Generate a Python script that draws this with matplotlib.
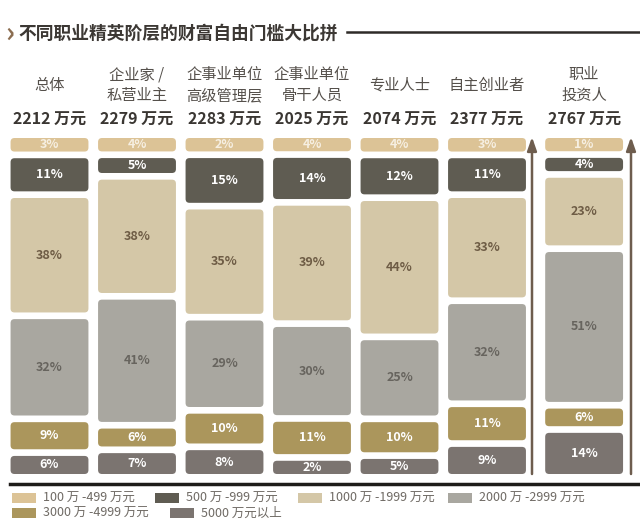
# 不同职业精英阶层的财富自由门槛 - 分段堆叠柱
import numpy as np
import matplotlib
matplotlib.use("Agg")
import matplotlib.pyplot as plt
from matplotlib.patches import FancyBboxPatch, Rectangle

plt.rcParams['font.family'] = ['Noto Sans CJK SC', 'DejaVu Sans']

# 数据
groups = ["总体", "企业家 /\n私营业主", "企事业单位\n高级管理层", "企事业单位\n骨干人员",
          "专业人士", "自主创业者", "职业\n投资人"]
totals = [2212, 2279, 2283, 2025, 2074, 2377, 2767]
s100 = [3, 4, 2, 4, 4, 3, 1]
s500 = [11, 5, 15, 14, 12, 11, 4]
s1000 = [38, 38, 35, 39, 44, 33, 23]
s2000 = [32, 41, 29, 30, 25, 32, 51]
s3000 = [9, 6, 10, 11, 10, 11, 6]
s5000 = [6, 7, 8, 2, 5, 9, 14]
series_labels = ["100 万 -499 万元", "500 万 -999 万元", "1000 万 -1999 万元",
                 "2000 万 -2999 万元", "3000 万 -4999 万元", "5000 万元以上"]

series = [s100, s500, s1000, s2000, s3000, s5000]  # 从上到下
colors = ['#dcc396', '#5f5c52', '#d4c7a7', '#a9a7a0', '#ab965c', '#7b7470']
txt_colors = ['#f6efe2', '#ffffff', '#6e5c45', '#67645e', '#ffffff', '#ffffff']

# 布局
xpos = np.array([0, 1, 2, 3, 4, 5, 6.11])
width = 0.89
gap = 2.2
min_h = 4.5

fig = plt.figure(figsize=(6.4, 5.22), dpi=100)
ax = fig.add_axes([0, 0, 1, 1])
x0, xs = 49.5, 87.5      # 像素 -> 数据
y0, ys = 474.0, 3.027
def X(px):
    return (px - x0) / xs
def Y(py):
    return (y0 - py) / ys
ax.set_xlim(X(0), X(640))
ax.set_ylim(Y(522), Y(0))
ax.axis('off')

# 每列各段的显示高度
vals = np.array(series, dtype=float)          # (6 段, 7 列)
heights = np.maximum(vals, min_h)
heights = heights / heights.sum(axis=0) * 100
top_total = 100 + gap * (len(series) - 1)

aspect = (4 / ys) / (4 / xs)
tops = np.full(len(xpos), top_total)
for i in range(len(series)):
    h = heights[i]
    bottoms = tops - h
    bars = ax.bar(xpos, h, bottom=bottoms, width=width, align='center')
    for j, rect in enumerate(bars):
        bx, by = rect.get_xy()
        bw, bh = rect.get_width(), rect.get_height()
        rect.set_visible(False)
        p = FancyBboxPatch((bx, by), bw, bh,
                           boxstyle="round,pad=0,rounding_size=0.045",
                           mutation_aspect=aspect, fc=colors[i], ec='none')
        ax.add_patch(p)
        ax.text(bx + bw / 2, by + bh / 2, f"{series[i][j]}%", ha='center', va='center',
                fontsize=9, fontweight='bold', color=txt_colors[i])
    tops = bottoms - gap

# 表头与总额
for j, g in enumerate(groups):
    ax.text(xpos[j], Y(85), g, ha='center', va='center', fontsize=11,
            color='#55504b', linespacing=1.3, fontweight='light')
    ax.text(xpos[j], Y(120), f"{totals[j]} 万元", ha='center', va='center',
            fontsize=11.5, fontweight='bold', color='#3a3632')

# 箭头
for axp in [532, 631]:
    ax.annotate('', xy=(X(axp), Y(137)), xytext=(X(axp), Y(474)),
                arrowprops=dict(arrowstyle='-|>,head_length=0.8,head_width=0.28',
                                color='#6e5d4e', lw=1.8, shrinkA=0, shrinkB=0))

# 标题
ax.text(X(5), Y(34), "›", ha='left', va='center', fontsize=20,
        fontweight='bold', color='#8b6d50')
ax.text(X(18), Y(34), "不同职业精英阶层的财富自由门槛大比拼", ha='left', va='center',
        fontsize=12.8, fontweight='bold', color='#3c3834')
ax.plot([X(347), X(640)], [Y(32), Y(32)], color='#2e2b28', lw=1.8)

# 底线
ax.plot([X(10), X(640)], [Y(484), Y(484)], color='#1e1c1a', lw=2.5)

# 图例
leg_pos = [(12, 498), (155, 498), (298, 498), (448, 498), (12, 513), (170, 513)]
for k, (lx, ly) in enumerate(leg_pos):
    ax.add_patch(Rectangle((X(lx), Y(ly + 5)), X(lx + 24) - X(lx), Y(ly - 5) - Y(ly + 5),
                           fc=colors[k], ec='none'))
    ax.text(X(lx + 31), Y(ly), series_labels[k], ha='left', va='center',
            fontsize=9, color='#6f6a64', fontweight='light')

fig.savefig('out.png', dpi=100, facecolor='white')
